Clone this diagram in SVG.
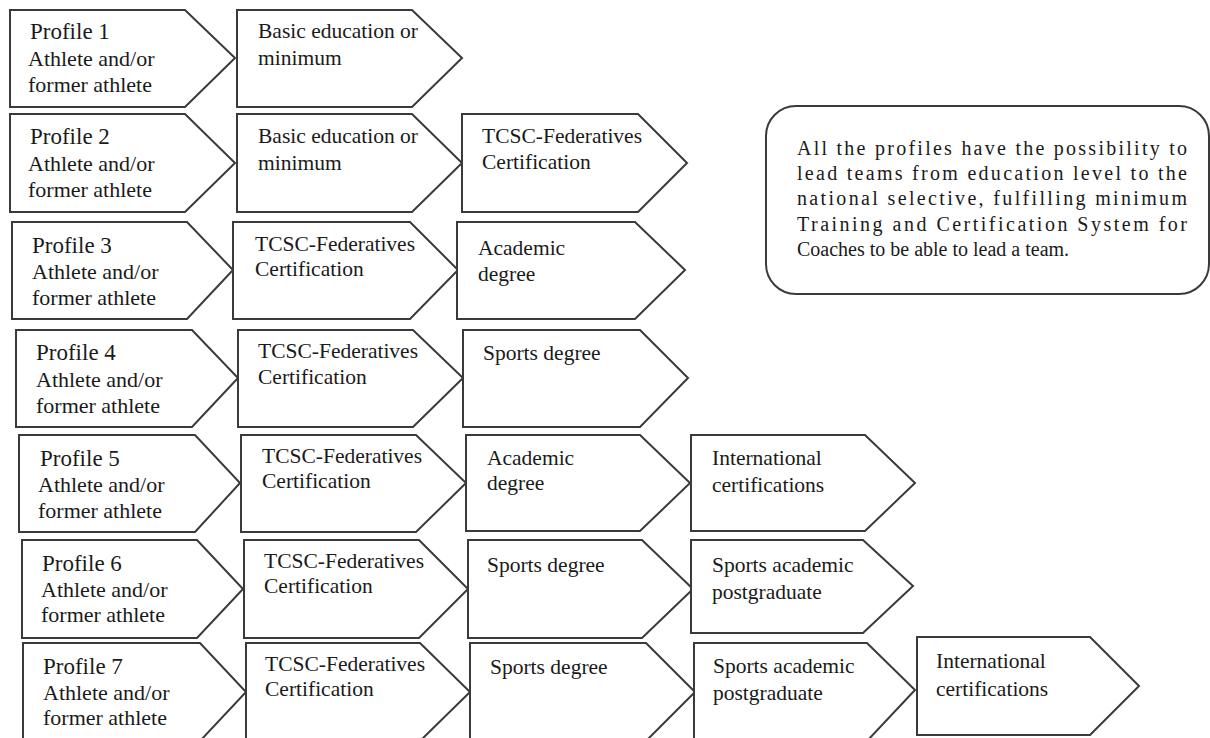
<svg xmlns="http://www.w3.org/2000/svg" width="1210" height="738" viewBox="0 0 1210 738">
<style>
.s{fill:#fff;stroke:#3a3a3a;stroke-width:2;stroke-linejoin:miter}
text{font-family:"Liberation Serif","Times New Roman",serif;font-size:21.5px;fill:#1a1a1a}
.p{font-size:23px}
.a{font-size:22px}
.n{font-size:20px}
</style>
<rect width="1210" height="738" fill="#fff"/>
<g id="row1">
<g id="p1"><path class="s" d="M10,10H185L235,58L185,107H10Z"/><text x="30" y="39" class="p">Profile 1</text><text x="28" y="66" class="a">Athlete and/or</text><text x="28" y="92" class="a">former athlete</text></g>
<g id="r1b"><path class="s" d="M237,10H412L462,58L412,107H237Z"/><text x="258" y="38">Basic education or</text><text x="258" y="65">minimum</text></g>
</g>
<g id="row2">
<g id="p2"><path class="s" d="M10,114H185L235,163L185,212H10Z"/><text x="30" y="144" class="p">Profile 2</text><text x="28" y="171" class="a">Athlete and/or</text><text x="28" y="197" class="a">former athlete</text></g>
<g id="r2b"><path class="s" d="M237,114H412L462,163L412,212H237Z"/><text x="258" y="143">Basic education or</text><text x="258" y="170">minimum</text></g>
<g id="r2c"><path class="s" d="M462,114H638L687,163L638,212H462Z"/><text x="482" y="143">TCSC-Federatives</text><text x="482" y="169">Certification</text></g>
</g>
<g id="row3">
<g id="p3"><path class="s" d="M12,222H187L233,270L187,319H12Z"/><text x="32" y="253" class="p">Profile 3</text><text x="32" y="279" class="a">Athlete and/or</text><text x="32" y="305" class="a">former athlete</text></g>
<g id="r3b"><path class="s" d="M233,222H410L458,270L410,319H233Z"/><text x="255" y="251">TCSC-Federatives</text><text x="255" y="276">Certification</text></g>
<g id="r3c"><path class="s" d="M457,222H635L685,270L635,319H457Z"/><text x="478" y="255">Academic</text><text x="478" y="281">degree</text></g>
</g>
<g id="row4">
<g id="p4"><path class="s" d="M16,330H192L238,378L192,427H16Z"/><text x="36" y="360" class="p">Profile 4</text><text x="36" y="387" class="a">Athlete and/or</text><text x="36" y="413" class="a">former athlete</text></g>
<g id="r4b"><path class="s" d="M238,330H413L463,378L413,427H238Z"/><text x="258" y="358">TCSC-Federatives</text><text x="258" y="384">Certification</text></g>
<g id="r4c"><path class="s" d="M463,330H640L688,378L640,427H463Z"/><text x="483" y="360">Sports degree</text></g>
</g>
<g id="row5">
<g id="p5"><path class="s" d="M19,435H195L240,483L195,532H19Z"/><text x="40" y="466" class="p">Profile 5</text><text x="38" y="492" class="a">Athlete and/or</text><text x="38" y="518" class="a">former athlete</text></g>
<g id="r5b"><path class="s" d="M241,435H416L466,483L416,532H241Z"/><text x="262" y="463">TCSC-Federatives</text><text x="262" y="488">Certification</text></g>
<g id="r5c"><path class="s" d="M466,435H640L690,483L640,531H466Z"/><text x="487" y="465">Academic</text><text x="487" y="490">degree</text></g>
<g id="r5d"><path class="s" d="M691,435H865L915,483L865,531H691Z"/><text x="712" y="465">International</text><text x="712" y="492">certifications</text></g>
</g>
<g id="row6">
<g id="p6"><path class="s" d="M22,540H197L243,589L197,638H22Z"/><text x="42" y="571" class="p">Profile 6</text><text x="41" y="597" class="a">Athlete and/or</text><text x="41" y="622" class="a">former athlete</text></g>
<g id="r6b"><path class="s" d="M244,540H419L468,589L419,638H244Z"/><text x="264" y="568">TCSC-Federatives</text><text x="264" y="593">Certification</text></g>
<g id="r6c"><path class="s" d="M468,540H642L693,589L642,638H468Z"/><text x="487" y="572">Sports degree</text></g>
<g id="r6d"><path class="s" d="M691,540H863L913,586L863,633H691Z"/><text x="712" y="572">Sports academic</text><text x="712" y="599">postgraduate</text></g>
</g>
<g id="row7">
<g id="p7"><path class="s" d="M23,643H200L246,692L200,741H23Z"/><text x="43" y="674" class="p">Profile  7</text><text x="43" y="700" class="a">Athlete and/or</text><text x="43" y="725" class="a">former athlete</text></g>
<g id="r7b"><path class="s" d="M246,643H420L470,692L420,741H246Z"/><text x="265" y="671">TCSC-Federatives</text><text x="265" y="696">Certification</text></g>
<g id="r7c"><path class="s" d="M470,643H646L695,692L646,741H470Z"/><text x="490" y="674">Sports degree</text></g>
<g id="r7d"><path class="s" d="M694,643H867L915,690L867,741H694Z"/><text x="713" y="673">Sports academic</text><text x="713" y="700">postgraduate</text></g>
<g id="r7e"><path class="s" d="M917,637H1090L1139,686L1090,735H917Z"/><text x="936" y="668">International</text><text x="936" y="696">certifications</text></g>
</g>
<g id="note">
<rect class="s" x="766" y="106" width="443" height="188" rx="30" ry="30"/>
<text class="n" x="797" y="155" textLength="390" lengthAdjust="spacing">All the profiles have the possibility to</text>
<text class="n" x="797" y="180" textLength="390" lengthAdjust="spacing">lead teams from education level to the</text>
<text class="n" x="797" y="205" textLength="390" lengthAdjust="spacing">national selective, fulfilling minimum</text>
<text class="n" x="797" y="231" textLength="390" lengthAdjust="spacing">Training and Certification System for</text>
<text class="n" x="797" y="256">Coaches to be able to lead a team.</text>
</g>
<g id="connectors"/>
</svg>
